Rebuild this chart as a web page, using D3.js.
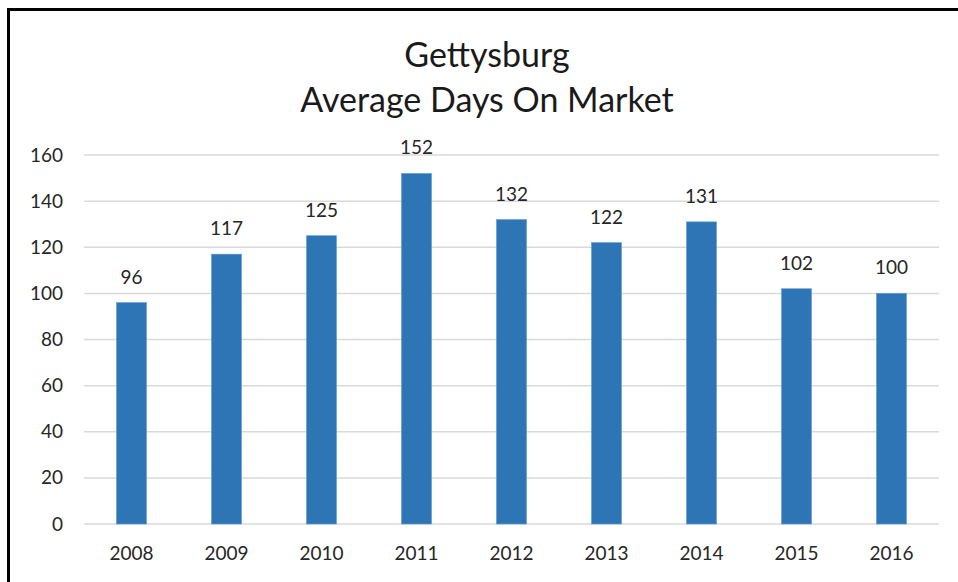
<html>
<head>
  <script src="https://d3js.org/d3.v7.min.js"></script>
  <style>
  body{
    margin: 0;
    background: #fff;
  }
  svg{
    display: block;
    font-family: Lato, "Open Sans", sans-serif;
  }
  </style>
</head>
<body>
  <script type="text/javascript">
    var years=["2008","2009","2010","2011","2012","2013","2014","2015","2016"];
    var days=[96,117,125,152,132,122,131,102,100];
    var yTicks=[0,20,40,60,80,100,120,140,160];
    var titleLines=["Gettysburg","Average Days On Market"];

    var width=958;
    var height=582;
    var plotL=84, plotR=939, plotT=155, plotB=524;

    var svg=d3.select("body")
              .append("svg")
              .attr("width",width)
              .attr("height",height);

    // frame (only top and left edges show in the crop)
    svg.append("path")
       .attr("d","M8.5,582 V9.5 H958")
       .attr("fill","none")
       .attr("stroke","#000")
       .attr("stroke-width",3);

    var x=d3.scaleBand()
            .domain(years)
            .range([plotL,plotR])
            .paddingInner(0.684)
            .paddingOuter(0.342);
    var y=d3.scaleLinear()
            .domain([0,160])
            .range([plotB,plotT]);

    // gridlines
    svg.append("g")
       .selectAll("line")
       .data(yTicks)
       .enter()
       .append("line")
       .attr("x1",plotL)
       .attr("x2",plotR)
       .attr("y1",function(d){ return y(d) })
       .attr("y2",function(d){ return y(d) })
       .attr("stroke","#d9d9d9")
       .attr("stroke-width",1.5);

    // y axis labels
    var yAxis=svg.append("g")
       .attr("transform","translate(63,0)")
       .call(d3.axisLeft(y).tickValues(yTicks).tickSize(0).tickPadding(0));
    yAxis.select(".domain").remove();
    yAxis.selectAll("text")
       .style("font-size","19px")
       .style("font-family","Lato, sans-serif")
       .attr("fill","#262626");

    // x axis labels
    var xAxis=svg.append("g")
       .attr("transform","translate(0,"+plotB+")")
       .call(d3.axisBottom(x).tickSize(0).tickPadding(23));
    xAxis.select(".domain").remove();
    xAxis.selectAll("text")
       .style("font-size","19px")
       .style("font-family","Lato, sans-serif")
       .attr("fill","#262626");

    // bars
    svg.selectAll("rect.bar")
       .data(days)
       .enter()
       .append("rect")
       .attr("class","bar")
       .attr("x",function(d,i){ return x(years[i]) })
       .attr("y",function(d){ return y(d) })
       .attr("width",x.bandwidth())
       .attr("height",function(d){ return plotB-y(d) })
       .attr("fill","#2e75b6")
       .attr("stroke","#5b9bd5")
       .attr("stroke-width",0.6);

    // value labels
    svg.selectAll("text.val")
       .data(days)
       .enter()
       .append("text")
       .attr("class","val")
       .text(function(d){ return d })
       .attr("x",function(d,i){ return x(years[i])+x.bandwidth()/2 })
       .attr("y",function(d){ return y(d)-19 })
       .attr("text-anchor","middle")
       .style("font-size","19px")
       .attr("fill","#262626");

    // title
    svg.selectAll("text.title")
       .data(titleLines)
       .enter()
       .append("text")
       .attr("class","title")
       .text(function(d){ return d })
       .attr("x",487)
       .attr("y",function(d,i){ return 67+i*45 })
       .attr("text-anchor","middle")
       .style("font-size","34px")
       .attr("fill","#1a1a1a");
  </script>
</body>
</html>
